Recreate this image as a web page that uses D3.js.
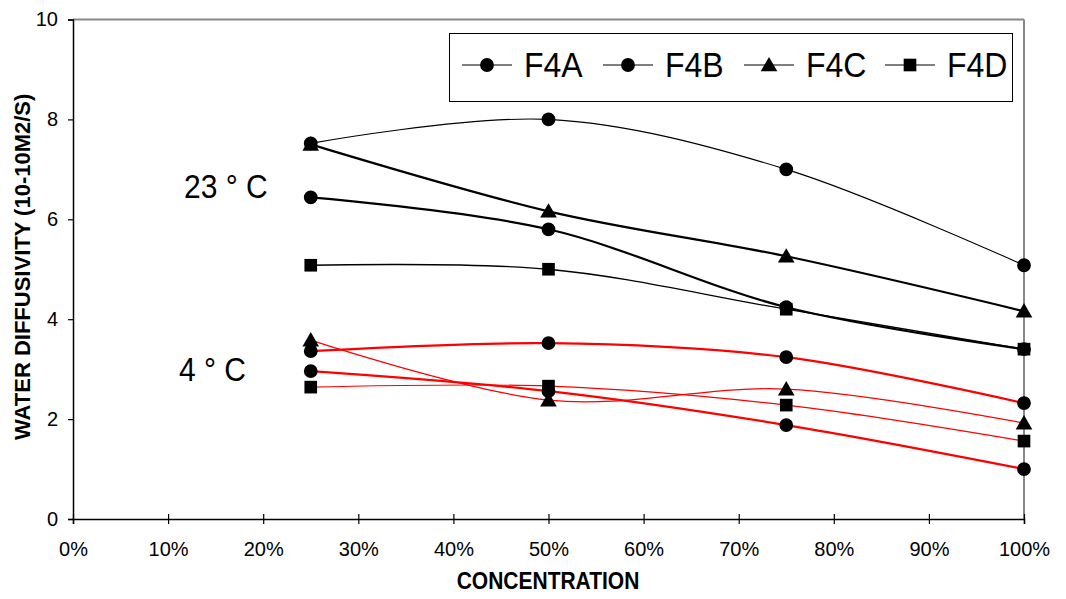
<!DOCTYPE html>
<html>
<head>
<meta charset="utf-8">
<script src="https://cdn.jsdelivr.net/npm/d3@7"></script>
<style>
  html, body { margin: 0; padding: 0; background: #fff; }
  svg { display: block; font-family: "Liberation Sans", Arial, sans-serif; }
</style>
</head>
<body>
<svg id="chart" width="1066" height="599"></svg>
<script>
// ---- data ----
const concentrations = [0.25, 0.50, 0.75, 1.00];
const xTicks = [0, 0.1, 0.2, 0.3, 0.4, 0.5, 0.6, 0.7, 0.8, 0.9, 1.0];
const yTicks = [0, 2, 4, 6, 8, 10];
const seriesNames = ["F4A", "F4B", "F4C", "F4D"];
const seriesSymbols = ["circle", "circle", "triangle", "square"];

// 23 °C (black)
const f4a23 = [7.52, 8.00, 7.00, 5.08];
const f4b23 = [6.44, 5.80, 4.24, 3.40];
const f4c23 = [7.50, 6.16, 5.26, 4.16];
const f4d23 = [5.08, 5.00, 4.20, 3.40];
// 4 °C (red)
const f4a4 = [3.36, 3.52, 3.24, 2.32];
const f4b4 = [2.96, 2.56, 1.88, 1.00];
const f4c4 = [3.58, 2.38, 2.60, 1.92];
const f4d4 = [2.64, 2.66, 2.28, 1.56];

const tempLabels = ["23 ° C", "4 ° C"];
const xTitle = "CONCENTRATION";
const yTitle = "WATER DIFFUSIVITY (10-10M2/S)";

// ---- layout ----
const svg = d3.select("#chart");
const L = 73, R = 1024, T = 19.5, B = 519;
const x = d3.scaleLinear().domain([0, 1]).range([L, R]);
const y = d3.scaleLinear().domain([0, 10]).range([B, T]);

const series = [
  { vals: f4a23, sym: "circle",   color: "#000", w: 1.1 },
  { vals: f4b23, sym: "circle",   color: "#000", w: 2.2 },
  { vals: f4c23, sym: "triangle", color: "#000", w: 2.2 },
  { vals: f4d23, sym: "square",   color: "#000", w: 1.3 },
  { vals: f4a4,  sym: "circle",   color: "#ff0000", w: 2.2 },
  { vals: f4b4,  sym: "circle",   color: "#ff0000", w: 2.2 },
  { vals: f4c4,  sym: "triangle", color: "#ff0000", w: 1.2 },
  { vals: f4d4,  sym: "square",   color: "#ff0000", w: 1.2 }
];

// frame (top/right grey)
svg.append("line").attr("x1", L).attr("x2", R).attr("y1", T).attr("y2", T)
  .attr("stroke", "#888").attr("stroke-width", 2);
svg.append("line").attr("x1", R).attr("x2", R).attr("y1", T).attr("y2", B)
  .attr("stroke", "#888").attr("stroke-width", 2);

// axes
const yAxis = d3.axisLeft(y).tickValues(yTicks).tickSize(5).tickPadding(10).tickFormat(d3.format("d"));
const gy = svg.append("g").attr("transform", `translate(${L},0)`).call(yAxis);
gy.select(".domain").attr("stroke", "#000").attr("stroke-width", 1.5);
gy.selectAll(".tick line").attr("stroke", "#000").attr("stroke-width", 1.2);
gy.selectAll(".tick text").attr("font-size", 20).attr("fill", "#000")
  .attr("font-family", "'Liberation Sans', Arial, sans-serif");

const xAxis = d3.axisBottom(x).tickValues(xTicks).tickSize(5).tickPadding(18).tickFormat(d3.format(".0%"));
const gx = svg.append("g").attr("transform", `translate(0,${B})`).call(xAxis);
gx.select(".domain").attr("stroke", "#000").attr("stroke-width", 1.5);
gx.selectAll(".tick line").attr("stroke", "#000").attr("stroke-width", 1.2).attr("y1", -5).attr("y2", 5);
gx.selectAll(".tick text").attr("font-size", 20).attr("fill", "#000")
  .attr("font-family", "'Liberation Sans', Arial, sans-serif");

// lines
const line = d3.line()
  .x((d, i) => x(concentrations[i]))
  .y(d => y(d))
  .curve(d3.curveCardinal.tension(0));

const symGen = {
  circle: d3.symbol().type(d3.symbolCircle).size(150),
  triangle: d3.symbol().type(d3.symbolTriangle).size(120),
  square: d3.symbol().type(d3.symbolSquare).size(160)
};

series.forEach(s => {
  svg.append("path").datum(s.vals).attr("d", line)
    .attr("fill", "none").attr("stroke", s.color).attr("stroke-width", s.w);
});
series.forEach(s => {
  svg.append("g").selectAll("path").data(s.vals).join("path")
    .attr("d", symGen[s.sym])
    .attr("transform", (d, i) => `translate(${x(concentrations[i])},${y(d) + (s.sym === "triangle" ? 1.5 : 0)})`)
    .attr("fill", "#000");
});

// temperature labels
svg.append("text").attr("transform", "translate(184,198) scale(1,1.08)").attr("font-size", 30).text(tempLabels[0]);
svg.append("text").attr("transform", "translate(179,381) scale(1,1.08)").attr("font-size", 30).text(tempLabels[1]);

// legend
const lg = svg.append("g");
lg.append("rect").attr("x", 449.5).attr("y", 33.5).attr("width", 563).attr("height", 68)
  .attr("fill", "#fff").attr("stroke", "#000").attr("stroke-width", 1);
seriesNames.forEach((n, i) => {
  const cx = 487 + 141 * i, cy = 65;
  lg.append("line").attr("x1", cx - 25).attr("x2", cx + 25).attr("y1", cy).attr("y2", cy)
    .attr("stroke", "#000").attr("stroke-width", 1.2);
  lg.append("path").attr("d", symGen[seriesSymbols[i]])
    .attr("transform", `translate(${cx},${cy + (seriesSymbols[i] === "triangle" ? 1.5 : 0)})`)
    .attr("fill", "#000");
  lg.append("text").attr("transform", `translate(${cx + 37},${cy + 12}) scale(1,1.1)`)
    .attr("font-size", 32).text(n);
});

// axis titles
svg.append("text").attr("transform", "translate(548,589) scale(1,1.1)").attr("text-anchor", "middle")
  .attr("font-size", 21).attr("font-weight", "bold").text(xTitle);

svg.append("defs").append("clipPath").attr("id", "ytclip")
  .append("rect").attr("x", 0).attr("y", 94).attr("width", 60).attr("height", 400);
svg.append("g").attr("clip-path", "url(#ytclip)")
  .append("text")
  .attr("transform", "translate(30,440) rotate(-90)")
  .attr("font-size", 22).attr("font-weight", "bold").text(yTitle);
</script>
</body>
</html>
